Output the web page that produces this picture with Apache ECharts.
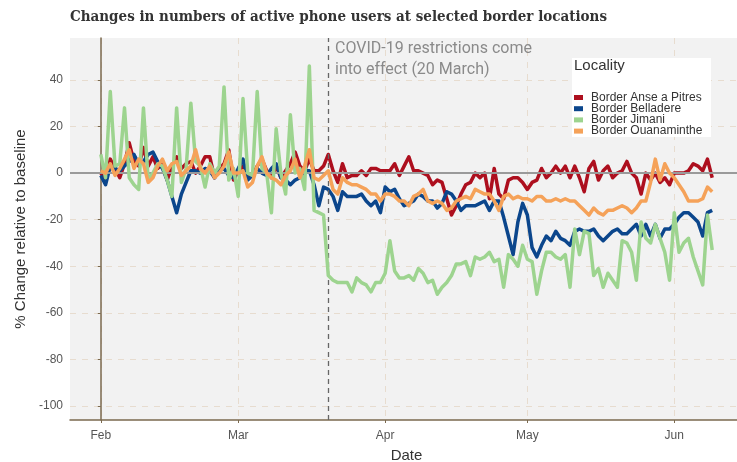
<!DOCTYPE html>
<html><head><meta charset="utf-8">
<script src="https://cdn.jsdelivr.net/npm/echarts@6/dist/echarts.min.js"></script>
<style>html,body{margin:0;padding:0;background:#fff}#c{width:737px;height:462px}</style>
</head><body><div id="c"></div><script>
// First day of the daily series (1 Feb 2020); one value per day follows.
const startYear = 2020, startMonth = 1, startDay = 1;
const seriesNames = ['Border Anse a Pitres', 'Border Belladere', 'Border Jimani', 'Border Ouanaminthe'];
const seriesColors = ['#ad0f1e', '#0b468c', '#9dd48f', '#f5a259'];

const ansePitres = [
  0, -3, 6, 2, -2, 4, 13, 5, 3, 11,
  3, 7, 2, 4, -3, 3, 7, 2, 4, 5,
  0, 3, 7, 7, -2, 2, 4, 10, -3, 1,
  3, -2, -1, 3, 6, 1, -2, 3, -2, 1,
  4, 9, 3, 1, 6, 1, 1, 3, 8, 1,
  -4, 4, -2, -1, -1, 1, -1, 2, 2, 1,
  1, 1, 4, -1, 3, 7, 1, 1, 0, -1,
  -5, -3, -4, -11, -18, -14, -9, -5, -4, 0,
  -2, 0, -11, 2, -9, -11, -3, -2, -2, -4,
  -7, -4, -3, 2, -2, 0, 3, 0, 3, -2,
  3, -2, -8, 2, 5, -3, 1, 3, -2, 0,
  1, 5, 0, -2, -9, 0, -3, 0, -4, -2,
  -5, 0, 0, 0, 1, 4, 3, 1, 6, -2
];
const belladere = [
  -1, -5, 3, 2, 1, 3, 5, 8, 4, 5,
  8, 9, 5, 2, -3, -10, -17, -9, -4, 1,
  1, 0, 2, 1, -2, 1, 2, -1, -2, 2,
  6, -3, -1, 2, 0, -1, 2, 4, -2, -3,
  -5, -3, -2, 1, 1, -5, -14, -6, -7, -10,
  -16, -8, -10, -10, -10, -9, -12, -14, -12, -17,
  -6, -8, -7, -11, -14, -13, -12, -9, -10, -12,
  -12, -15, -13, -8, -9, -12, -16, -14, -14, -14,
  -13, -12, -16, -12, -12, -19, -27, -35, -21, -13,
  -18, -32, -36, -31, -27, -29, -25, -28, -29, -31,
  -25, -24, -25, -25, -24, -27, -29, -27, -25, -24,
  -26, -26, -24, -22, -27, -22, -27, -22, -28, -24,
  -24, -22, -19, -17, -17, -19, -21, -27, -17, -16
];
const jimani = [
  8, -2, 35, 3, 4, 28, -2, -5, -7, 28,
  -3, 0, 4, 3, -3, -10, 28, -4, 2, 30,
  5, 3, -6, 4, 0, 3, 37, -3, 2, -10,
  32, 0, -1, 35, 2, 0, -17, 19, 0, -9,
  25, 0, 2, -7, 46, -16, -17, -18, -44, -46,
  -47, -47, -47, -51, -45, -47, -48, -51, -47, -47,
  -43, -29, -42, -45, -45, -44, -46, -41, -43, -47,
  -46, -52, -49, -47, -44, -39, -39, -38, -44, -36,
  -37, -36, -34, -38, -37, -49, -35, -37, -40, -31,
  -37, -38, -52, -42, -34, -34, -36, -37, -35, -49,
  -24, -35, -25, -26, -44, -41, -49, -43, -46, -49,
  -29, -30, -34, -46, -21, -28, -30, -22, -28, -34,
  -46, -17, -34, -30, -28, -36, -42, -48, -18, -33
];
const ouanaminthe = [
  1, 0, 4, -1, 2, 6, 10, 2, 6, 4,
  -4, -2, 3, 6, 1, 4, 5, -1, 1, 3,
  10, 2, 0, 3, -2, 0, 3, 9, 0, 0,
  1, -6, -4, 3, 7, 0, -2, -3, -5, -1,
  1, 6, -2, 3, 10, -2, -3, -1, 1, -7,
  -9, -2, -4, -5, -5, -6, -7, -9, -9, -12,
  -9, -9, -10, -12, -12, -14, -10, -9, -7, -12,
  -13, -12, -13, -16, -15, -12, -11, -10, -11, -7,
  -8, -9, -9, -12, -16, -10, -9, -11, -10, -11,
  -11, -12, -10, -10, -12, -12, -11, -12, -11, -12,
  -12, -14, -16, -18, -15, -17, -18, -16, -16, -15,
  -14, -15, -17, -15, -12, -12, -4, 6, -3, 4,
  0, -2, -5, -8, -12, -12, -12, -11, -6, -8
];

// Axis ticks
const monthTicks = [[2020, 1, 1], [2020, 2, 1], [2020, 3, 1], [2020, 4, 1], [2020, 5, 1]];
const monthLabels = ['Feb', 'Mar', 'Apr', 'May', 'Jun'];
const yTicks = [-100, -80, -60, -40, -20, 0, 20, 40];
const restrictionDate = [2020, 2, 20];
const annotationText = 'COVID-19 restrictions come\ninto effect (20 March)';

// x is measured in days since the first day
const DAY = 86400000;
const t0 = new Date(startYear, startMonth, startDay).getTime();
const dayOf = a => Math.round((new Date(a[0], a[1], a[2]).getTime() - t0) / DAY);
const allSeries = [ansePitres, belladere, jimani, ouanaminthe];
const nDays = ansePitres.length;
const xMin = -6.5;
const xMax = nDays - 1 + 6.5;
const monthDays = monthTicks.map(dayOf);

const chart = echarts.init(document.getElementById('c'), null, {renderer: 'canvas'});

const series = allSeries.map((vals, k) => ({
  name: seriesNames[k],
  type: 'line',
  data: vals.map((v, i) => [i, v]),
  showSymbol: false,
  symbol: 'none',
  lineStyle: {width: 3.5, color: seriesColors[k], join: 'round'},
  itemStyle: {color: seriesColors[k]},
  z: 3 + k,
  animation: false
}));
// reference lines (zero line + restriction date)
series.push({
  type: 'line', data: [], silent: true, z: 2,
  markLine: {
    silent: true, symbol: 'none', animation: false,
    label: {show: false},
    data: [
      {yAxis: 0, lineStyle: {color: '#9a9a9a', width: 2, type: 'solid'}},
      {xAxis: dayOf(restrictionDate), lineStyle: {color: '#666', width: 1.3, type: [5, 4]}}
    ]
  }
});

chart.setOption({
  animation: false,
  backgroundColor: '#ffffff',
  title: {
    text: 'Changes in numbers of active phone users at selected border locations',
    left: 70, top: 10, padding: 0,
    textStyle: {fontFamily: 'DejaVu Serif Condensed', fontWeight: 'bold', fontSize: 15, color: '#333'}
  },
  grid: {left: 70, top: 38, width: 673, height: 382, show: true, backgroundColor: '#f2f2f2', borderWidth: 0, outerBoundsMode: 'none', containLabel: false},
  legend: {
    orient: 'vertical', left: 574, top: 91.5, z: 60,
    data: seriesNames,
    icon: 'rect', itemWidth: 9, itemHeight: 5, itemGap: -0.8, padding: 0,
    textStyle: {fontFamily: 'Liberation Sans', fontSize: 12, color: '#333', lineHeight: 11.3, padding: [0, 0, 0, 3]}
  },
  xAxis: {
    type: 'value', min: xMin, max: xMax,
    name: 'Date', nameLocation: 'middle', nameGap: 28,
    nameTextStyle: {fontFamily: 'Liberation Sans', fontSize: 15, color: '#333'},
    axisLine: {onZero: false, lineStyle: {color: '#7b6a4f', width: 1.5}},
    axisTick: {show: true, length: 3, customValues: monthDays, lineStyle: {color: '#7b6a4f'}},
    axisLabel: {
      customValues: monthDays, margin: 10, showMinLabel: true, showMaxLabel: true,
      fontFamily: 'Liberation Sans', fontSize: 12, color: '#555',
      formatter: v => monthLabels[monthDays.indexOf(Math.round(v))] || ''
    },
    splitLine: {show: true, lineStyle: {color: '#e7dccf', type: [6, 6], width: 1}}
  },
  yAxis: {
    type: 'value', min: -106, max: 58,
    name: '% Change relative to baseline', nameLocation: 'middle', nameGap: 41,
    nameTextStyle: {fontFamily: 'Liberation Sans', fontSize: 15, color: '#333'},
    axisLine: {show: true, lineStyle: {color: '#7b6a4f', width: 1.5}},
    axisTick: {show: true, length: 3, customValues: yTicks, lineStyle: {color: '#7b6a4f'}},
    axisLabel: {customValues: yTicks, margin: 7, fontFamily: 'Liberation Sans', fontSize: 12, color: '#555'},
    splitLine: {show: true, lineStyle: {color: '#e7dccf', type: [6, 6], width: 1}}
  },
  graphic: [
    {type: 'rect', left: 572, top: 58, shape: {width: 139, height: 79}, style: {fill: '#ffffff'}, z: 50},
    {type: 'text', left: 574, top: 58, style: {text: 'Locality', font: '15px Liberation Sans', fill: '#333'}, z: 51},
    {type: 'text', left: 335, top: 38, style: {text: annotationText, font: '16px Roboto', fill: '#8a8a8a', lineHeight: 21}, z: 51}
  ],
  series: series
});
</script></body></html>
